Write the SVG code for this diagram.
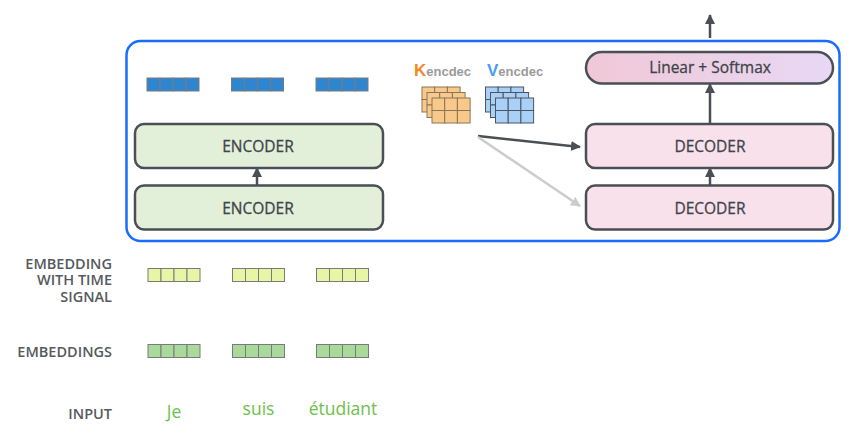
<svg xmlns="http://www.w3.org/2000/svg" width="866" height="434" viewBox="0 0 866 434">
<style>
.lbl{font-family:"Open Sans","Noto Sans",sans-serif;font-size:14.5px;font-weight:600;fill:#555a60;text-anchor:end}
.box{font-family:"Open Sans","Noto Sans",sans-serif;font-size:15.5px;fill:#3f444a;text-anchor:middle;stroke:#3f444a;stroke-width:0.3}
.word{font-family:"Open Sans","Noto Sans",sans-serif;font-size:17.5px;fill:#6cbf4b;text-anchor:middle}
.enc{fill:#e2f0d9;stroke:#4a4f55;stroke-width:2.5}
.dec{fill:#f9e1ec;stroke:#4a4f55;stroke-width:2.5}
.cell{stroke:#7a7a7a;stroke-width:1}
.kc{fill:#f9c98c;stroke:#8a7656;stroke-width:1}
.vc{fill:#a9d0f6;stroke:#4d5560;stroke-width:1}
.conn{stroke:#4a4f55;stroke-width:2.5;fill:none}
</style>
<defs>
<linearGradient id="sm" x1="0" y1="0" x2="1" y2="0">
<stop offset="0" stop-color="#f0c8d6"/>
<stop offset="1" stop-color="#e8d8f4"/>
</linearGradient>
<marker id="ah" viewBox="0 0 10 10" refX="9" refY="5" markerWidth="4" markerHeight="4" orient="auto" markerUnits="strokeWidth">
<path d="M0,0 L10,5 L0,10 z" fill="#4a4f55"/>
</marker>
<marker id="ahg" viewBox="0 0 10 10" refX="9" refY="5" markerWidth="4" markerHeight="4" orient="auto" markerUnits="strokeWidth">
<path d="M0,0 L10,5 L0,10 z" fill="#cccccc"/>
</marker>
<g id="vec4">
<rect x="0" y="0" width="13" height="13"/>
<rect x="13" y="0" width="13" height="13"/>
<rect x="26" y="0" width="13" height="13"/>
<rect x="39" y="0" width="13" height="13"/>
</g>
<g id="mat">
<rect x="0" y="0" width="12.7" height="12.5"/>
<rect x="12.7" y="0" width="12.7" height="12.5"/>
<rect x="25.4" y="0" width="12.7" height="12.5"/>
<rect x="0" y="12.5" width="12.7" height="12.5"/>
<rect x="12.7" y="12.5" width="12.7" height="12.5"/>
<rect x="25.4" y="12.5" width="12.7" height="12.5"/>
</g>
</defs>

<g id="stack-frame">
<rect x="126.5" y="41" width="713" height="200" rx="14" fill="none" stroke="#1a6bff" stroke-width="2.5"/>
</g>

<g id="connectors">
<line class="conn" x1="257" y1="185" x2="257" y2="168" marker-end="url(#ah)"/>
<line class="conn" x1="710" y1="185" x2="710" y2="168" marker-end="url(#ah)"/>
<line class="conn" x1="710" y1="123" x2="710" y2="84" marker-end="url(#ah)"/>
<line class="conn" x1="710" y1="38" x2="710" y2="15" marker-end="url(#ah)"/>
<line class="conn" x1="478" y1="136" x2="580" y2="147" marker-end="url(#ah)"/>
<line x1="478" y1="137" x2="580" y2="206" stroke="#cccccc" stroke-width="2.5" marker-end="url(#ahg)"/>
</g>

<g id="encoder-outputs" class="cell" fill="#2e86d1" stroke="#4f6a86">
<use href="#vec4" x="147" y="78"/>
<use href="#vec4" x="231.5" y="78"/>
<use href="#vec4" x="316" y="78"/>
</g>

<g id="encoder-2">
<rect class="enc" x="135" y="124" width="248" height="44" rx="9"/>
<text class="box" x="258" y="152">ENCODER</text>
</g>
<g id="encoder-1">
<rect class="enc" x="135" y="185.5" width="248" height="44" rx="9"/>
<text class="box" x="258" y="213.5">ENCODER</text>
</g>

<g id="k-encdec">
<text x="414" y="76" font-family="'Liberation Sans',Arial,sans-serif" font-size="17" font-weight="bold" fill="#f08a24">K<tspan font-size="13" fill="#9a9a9a">encdec</tspan></text>
<g class="kc">
<use href="#mat" x="422" y="87"/>
<use href="#mat" x="427" y="92.5"/>
<use href="#mat" x="432" y="98"/>
</g>
</g>
<g id="v-encdec">
<text x="487" y="76" font-family="'Liberation Sans',Arial,sans-serif" font-size="17" font-weight="bold" fill="#4a9df2">V<tspan font-size="13" fill="#9a9a9a">encdec</tspan></text>
<g class="vc">
<use href="#mat" x="485.5" y="87"/>
<use href="#mat" x="490.5" y="92.5"/>
<use href="#mat" x="495.5" y="98"/>
</g>
</g>

<g id="linear-softmax">
<rect x="586" y="52" width="247" height="31.5" rx="15.75" fill="url(#sm)" stroke="#4a4f55" stroke-width="2.5"/>
<text class="box" x="710" y="73" font-size="15">Linear + Softmax</text>
</g>
<g id="decoder-2">
<rect class="dec" x="586" y="124" width="247" height="44" rx="9"/>
<text class="box" x="710" y="152">DECODER</text>
</g>
<g id="decoder-1">
<rect class="dec" x="586" y="185.5" width="247" height="44" rx="9"/>
<text class="box" x="710" y="213.5">DECODER</text>
</g>

<g id="label-time-signal">
<text class="lbl"><tspan x="112" y="268.5">EMBEDDING</tspan><tspan x="112" y="285">WITH TIME</tspan><tspan x="112" y="301.5">SIGNAL</tspan></text>
</g>
<g id="time-signal-vectors" class="cell" fill="#e7f6a6">
<use href="#vec4" x="148" y="268.5"/>
<use href="#vec4" x="232.5" y="268.5"/>
<use href="#vec4" x="316.5" y="268.5"/>
</g>

<g id="label-embeddings">
<text class="lbl" x="112" y="356.5">EMBEDDINGS</text>
</g>
<g id="embedding-vectors" class="cell" fill="#a9d99b">
<use href="#vec4" x="148" y="344.5"/>
<use href="#vec4" x="232.5" y="344.5"/>
<use href="#vec4" x="316.5" y="344.5"/>
</g>

<g id="label-input">
<text class="lbl" x="112" y="418.5">INPUT</text>
</g>
<g id="inputs">
<text class="word" x="174" y="418">Je</text>
<text class="word" x="258.5" y="414.5">suis</text>
<text class="word" x="343" y="414.5">étudiant</text>
</g>
</svg>
